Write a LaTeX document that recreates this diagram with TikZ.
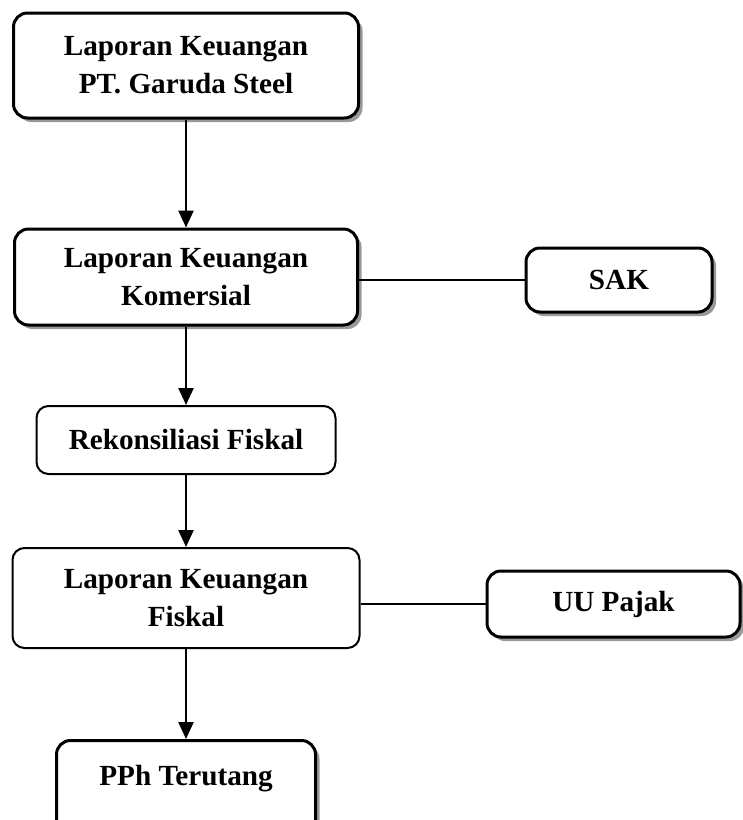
\documentclass[tikz,border=0pt]{standalone}
\usepackage{fontspec}
\setmainfont{Liberation Serif}
\usetikzlibrary{arrows.meta,shadows}
\begin{document}
\begin{tikzpicture}[x=0.5pt, y=-0.5pt,
  every node/.style={font=\fontsize{14.6}{19}\selectfont\bfseries, align=center, inner sep=0pt},
  boxthick/.style={draw, line width=1.5pt, rounded corners=7pt, fill=white,
    drop shadow={shadow xshift=2pt, shadow yshift=-2pt, fill=black!40, opacity=1}},
  boxthin/.style={draw, line width=1pt, rounded corners=6pt, fill=white},
  arr/.style={line width=1.2pt, -{Triangle[width=7.5pt,length=8.5pt]}}]
  \useasboundingbox (0,0) rectangle (743,820);
  \node[boxthick, minimum width=172.5pt, minimum height=52.5pt] (lkgaruda) at (186,65.5) {Laporan Keuangan\\PT. Garuda Steel};
  \node[boxthick, minimum width=171.5pt, minimum height=48pt] (lkkomersial) at (186,277) {Laporan Keuangan\\Komersial};
  \node[boxthick, minimum width=93pt, minimum height=32pt] (sak) at (619,280) {SAK};
  \node[boxthin, minimum width=149.5pt, minimum height=34pt] (rekon) at (186,440) {Rekonsiliasi Fiskal};
  \node[boxthin, minimum width=173.5pt, minimum height=50pt] (lkfiskal) at (186,598) {Laporan Keuangan\\Fiskal};
  \node[boxthick, minimum width=126.5pt, minimum height=33pt] (uupajak) at (613.5,604) {UU Pajak};
  \node[boxthick, anchor=north, minimum width=129.5pt, text height=22.5pt, text depth=28.5pt] (pph) at (186,739) {PPh Terutang};
  \draw[arr] (lkgaruda.south) -- (lkkomersial.north);
  \draw[arr] (lkkomersial.south) -- (rekon.north);
  \draw[arr] (rekon.south) -- (lkfiskal.north);
  \draw[arr] (lkfiskal.south) -- (pph.north);
  \draw[line width=0.8pt] (sak.west) -- (sak.west -| lkkomersial.east);
  \draw[line width=0.8pt] (uupajak.west) -- (uupajak.west -| lkfiskal.east);
\end{tikzpicture}
\end{document}
